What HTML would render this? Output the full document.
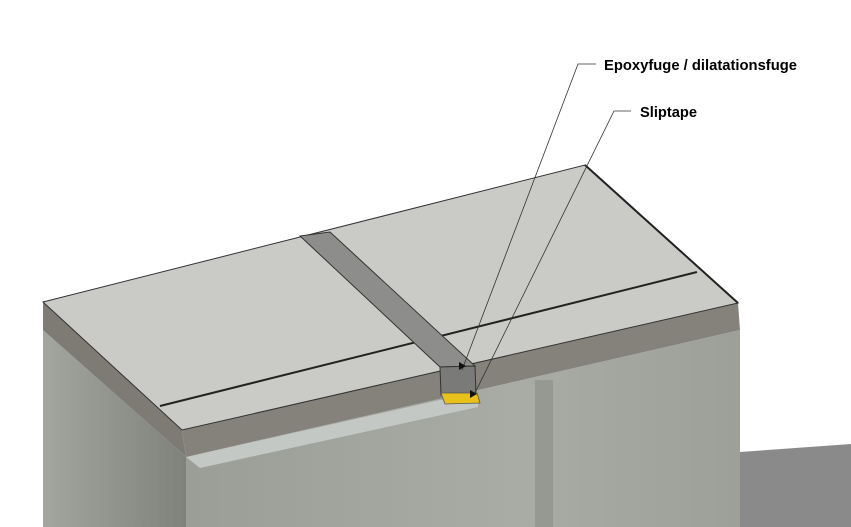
<!DOCTYPE html>
<html><head><style>body{margin:0;background:#fff}svg{display:block}</style></head><body>
<svg width="851" height="527" viewBox="0 0 851 527" xmlns="http://www.w3.org/2000/svg">
<defs>
<linearGradient id="lf" x1="0" y1="0" x2="1" y2="0"><stop offset="0" stop-color="#a2a69e"/><stop offset="1" stop-color="#7e827a"/></linearGradient>
<linearGradient id="rf" x1="0" y1="0" x2="1" y2="0"><stop offset="0" stop-color="#9a9e96"/><stop offset="0.6" stop-color="#a8aca4"/><stop offset="1" stop-color="#9ca098"/></linearGradient>
</defs>
<polygon points="740,452 851,444 851,527 740,527" fill="#8a8a8a"/>
<polygon points="43,330 186,457 186,527 43,527" fill="url(#lf)"/>
<polygon points="186,457 740,330 740,527 186,527" fill="url(#rf)"/>
<rect x="535" y="380" width="18" height="147" fill="#8a8e86" opacity="0.6"/>
<polygon points="186,457 440,400 478,400 478,407 200,468" fill="#c4c8c4"/>
<polygon points="43,302 182,430 186,457 43,330" fill="#7e7a74"/>
<polygon points="182,430 738,303 740,330 186,457" fill="#85817b"/>
<polygon points="43,302 585,165 738,303 182,430" fill="#cacac7" stroke="#333" stroke-width="1"/>
<line x1="160" y1="406" x2="697" y2="272" stroke="#222" stroke-width="2"/>
<polygon points="300,236 330,232 475,366 440,367" fill="#8d8d8b" stroke="#333" stroke-width="1"/>
<polygon points="440,367 475,366 476,395 441,395" fill="#7a7a78" stroke="#333" stroke-width="1"/>
<polygon points="441,393 477,393 480,403 445,404" fill="#e8c21a" stroke="#555" stroke-width="0.8"/>
<line x1="585" y1="165" x2="738" y2="303" stroke="#222" stroke-width="2"/>
<polyline points="596,64 578,64 462,370" fill="none" stroke="#333" stroke-width="0.8"/>
<polyline points="631,111 614,111 474,395" fill="none" stroke="#333" stroke-width="0.8"/>
<polygon points="459,362 466,366 459,370" fill="#111"/>
<polygon points="470,390 477,394 470,398" fill="#111"/>
<text x="604" y="70" font-family="Liberation Sans, sans-serif" font-size="14.5" font-weight="bold" fill="#000" textLength="193" lengthAdjust="spacingAndGlyphs">Epoxyfuge / dilatationsfuge</text>
<text x="640" y="117" font-family="Liberation Sans, sans-serif" font-size="14.5" font-weight="bold" fill="#000" textLength="57" lengthAdjust="spacingAndGlyphs">Sliptape</text>
</svg>
</body></html>
